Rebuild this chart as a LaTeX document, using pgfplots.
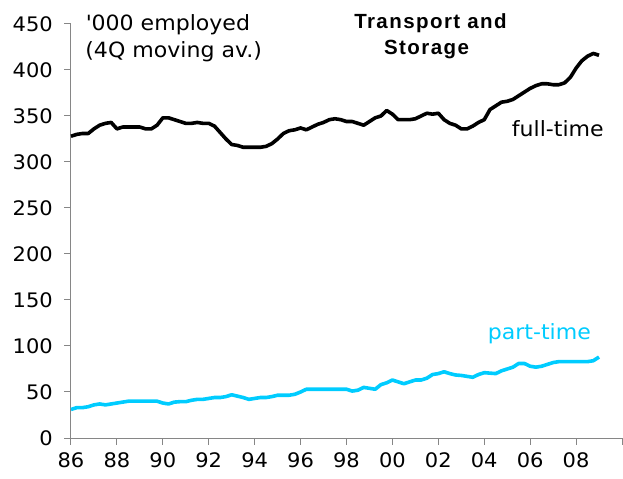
\documentclass[border=0pt]{standalone}
\usepackage{fontspec}
\setmainfont{DejaVu Sans}[FakeStretch=1.05]
\newfontfamily\titlefont{Liberation Sans}[LetterSpace=7]
\usepackage{pgfplots}
\usepackage{pgfplotstable}
\pgfplotsset{compat=1.18}
\definecolor{ptcyan}{RGB}{0,204,255}
\definecolor{axgray}{RGB}{134,134,134}

% quarterly, '000 employed (4Q moving average)
\pgfplotstableread{
year ft pt
1986.00 328 31
1986.25 330 33
1986.50 331 33
1986.75 331 34
1987.00 336 36
1987.25 340 37
1987.50 342 36
1987.75 343 37
1988.00 336 38
1988.25 338 39
1988.50 338 40
1988.75 338 40
1989.00 338 40
1989.25 336 40
1989.50 336 40
1989.75 340 40
1990.00 348 38
1990.25 348 37
1990.50 346 39
1990.75 344 39.5
1991.00 342 39.5
1991.25 342 41
1991.50 343 42
1991.75 342 42
1992.00 342 43
1992.25 339 44
1992.50 332 44
1992.75 325 45
1993.00 319 47
1993.25 318 45.5
1993.50 316 44
1993.75 316 42
1994.00 316 43
1994.25 316 44
1994.50 317 44
1994.75 320 45
1995.00 325 46.5
1995.25 331 46.5
1995.50 334 46.5
1995.75 335 47.5
1996.00 337 50
1996.25 335 53
1996.50 338 53
1996.75 341 53
1997.00 343 53
1997.25 346 53
1997.50 347 53
1997.75 346 53
1998.00 344 53
1998.25 344 51
1998.50 342 52
1998.75 340 55
1999.00 344 54
1999.25 348 53
1999.50 350 58
1999.75 356 60
2000.00 352 63
2000.25 346 61
2000.50 346 59
2000.75 346 61
2001.00 347 63
2001.25 350 63
2001.50 353 65
2001.75 352 69
2002.00 353 70
2002.25 346 72
2002.50 342 70
2002.75 340 68.5
2003.00 336 68
2003.25 336 67
2003.50 339 66
2003.75 343 69
2004.00 346 71
2004.25 357 70.5
2004.50 361 70
2004.75 365 73
2005.00 366 75
2005.25 368 77
2005.50 372 81
2005.75 376 81
2006.00 380 78
2006.25 383 77
2006.50 385 78
2006.75 385 80
2007.00 384 82
2007.25 384 83
2007.50 386 83
2007.75 392 83
2008.00 402 83
2008.25 410 83
2008.50 415 83
2008.75 418 84
2009.00 416 88
}\transport

\begin{document}
\begin{tikzpicture}
\path[use as bounding box] (-71bp,-41bp) rectangle (552bp,438bp);
\begin{axis}[
    scale only axis,
    width=551bp, height=414bp,
    xmin=1986, xmax=2010,
    ymin=0, ymax=450,
    axis x line*=bottom,
    axis y line*=left,
    axis line style={axgray, line width=1bp},
    every tick/.style={axgray, line width=1bp},
    tick align=outside,
    major tick length=7bp,
    xtick={1986,1988,...,2010},
    xticklabels={86,88,90,92,94,96,98,00,02,04,06,08,},
    ytick={0,50,...,450},
    /pgf/number format/assume math mode=true,
    tick label style={font=\fontsize{20bp}{24bp}\selectfont, inner sep=0pt},
    yticklabel style={anchor=east, xshift=-11bp},
    xticklabel style={anchor=north, yshift=-7bp},
    clip=false,
    ]
\addplot[black, line width=3.6bp, line join=round] table[x=year, y=ft] {\transport};
\addplot[ptcyan, line width=3.6bp, line join=round] table[x=year, y=pt] {\transport};
\end{axis}
\begin{scope}[every node/.style={inner sep=0pt}, font=\fontsize{21bp}{25bp}\selectfont]
\node[anchor=base west] at (14.7bp,407bp) {\textquotesingle 000 employed};
\node[anchor=base west] at (14.2bp,380.5bp) {(4Q moving av.)};
\node[anchor=base west] at (440.7bp,301bp) {full-time};
\node[anchor=base west, text=ptcyan] at (416.7bp,98bp) {part-time};
\node[anchor=base, font=\titlefont\bfseries\fontsize{20.5bp}{24bp}\selectfont] at (359.5bp,409bp) {Transport and};
\node[anchor=base, font=\titlefont\bfseries\fontsize{20.5bp}{24bp}\selectfont] at (355.5bp,383bp) {Storage};
\end{scope}
\end{tikzpicture}
\end{document}
